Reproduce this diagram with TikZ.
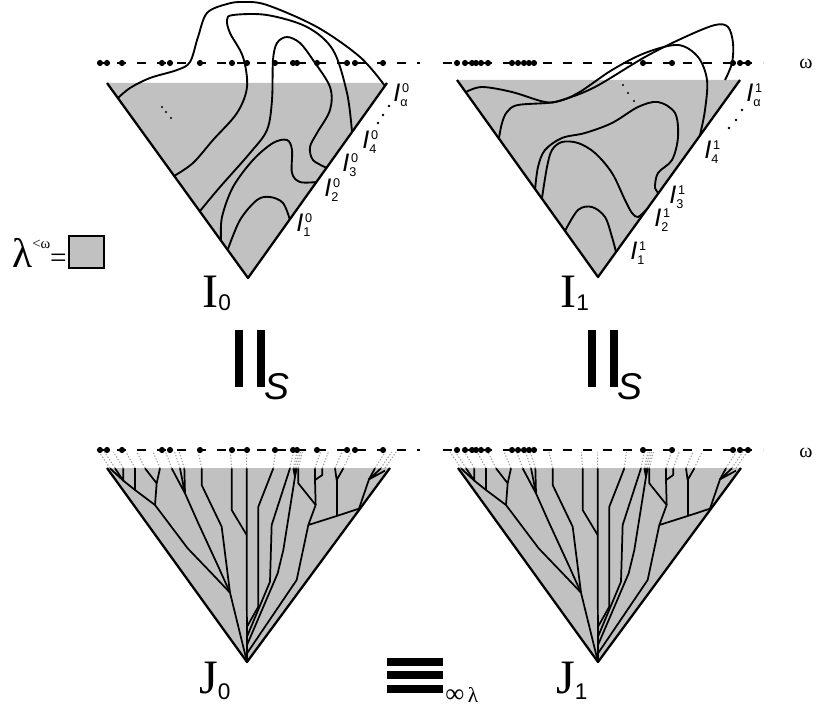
\documentclass[tikz,border=0pt]{standalone}
\usepackage{fontspec}
\setmainfont{Liberation Serif}
\newfontfamily\labfont{Liberation Sans}
\usepackage{tikz}
\usetikzlibrary{positioning}
\definecolor{fillgray}{RGB}{193,193,193}
\definecolor{leafgray}{RGB}{160,160,160}

% edge label I_sub^sup
\newcommand{\edgelab}[2]{{\labfont\itshape\fontsize{19}{19}\selectfont I}%
  \rlap{\hspace{1.4pt}\raisebox{6.5pt}{\labfont\fontsize{9.5}{9.5}\selectfont #2}}%
  \raisebox{-4pt}{\labfont\fontsize{9.5}{9.5}\selectfont #1}}

\def\dotsL{100,107,122,162,170,200,232,247,275,293,297,317,347,355,383}
\def\dotsR{457,465,472,476,481,488,512,518,524,529,534,643,672,733,740,748}

\newcommand{\drawtree}{%
  \fill[fillgray] (36,84) -- (885,84) -- (456,666) -- cycle;
  \foreach \lx in {45,60,85,120,150,195,230,255,268,320,410,455,535,585,595,600,605,610,660,682,720,745,840,858,870}
    \draw[leafline] (\lx,84) -- ({\lx+(\lx-456)*0.08},36);
  \draw[side] (36,84) -- (456,666) -- (885,84);
  % left part
  \draw[branch] (45,85) -- (85,122) -- (120,150) -- (180,195) -- (278,325) -- (350,400) -- (405,458) -- (456,666);
  \draw[branch] (60,85) -- (85,122) -- (85,85);
  \draw[branch] (120,85) -- (120,150);
  \draw[branch] (150,85) -- (185,130);
  \draw[branch] (195,85) -- (185,130) -- (180,195);
  \draw[branch] (320,85) -- (320,135) -- (380,260) -- (405,458);
  \draw[branch] (230,85) -- (270,160) -- (255,85);
  \draw[branch] (268,85) -- (270,160) -- (310,250) -- (370,380) -- (405,458);
  % middle
  \draw[branch] (410,85) -- (410,210) -- (455,285);
  \draw[branch] (455,85) -- (455,285) -- (456,666);
  \draw[branch] (535,85) -- (490,200) -- (490,500) -- (456,560);
  \draw[branch] (585,85) -- (530,255) -- (525,425) -- (456,590);
  \draw[branch] (595,85) -- (600,110) -- (605,85);
  \draw[branch] (600,85) -- (600,110) -- (565,330) -- (548,400) -- (456,615);
  % right part
  \draw[branch] (610,85) -- (610,130) -- (662,195) -- (640,255) -- (605,420) -- (456,640);
  \draw[branch] (660,85) -- (660,120) -- (682,105) -- (682,85);
  \draw[branch] (660,120) -- (662,195);
  \draw[branch] (640,255) -- (725,228) -- (792,206);
  \draw[branch] (720,85) -- (725,120) -- (745,85);
  \draw[branch] (725,120) -- (725,228);
  \draw[branch] (792,206) -- (822,118) -- (840,85);
  \draw[branch] (858,85) -- (822,118) -- (870,92);
}

\begin{document}
\begin{tikzpicture}[x=0.75pt, y=-0.75pt,
    side/.style={line width=1.7pt, line join=round},
    curve/.style={line width=1.4pt, line join=round},
    branch/.style={line width=1.3pt, line join=round},
    leafline/.style={leafgray, line width=0.8pt, dash pattern=on 1pt off 1.3pt},
    omline/.style={line width=1.3pt, dash pattern=on 7pt off 8pt},
    dotmark/.style={radius=2.3pt},
    lab/.style={anchor=base west, inner sep=0pt}
  ]
  \useasboundingbox (0,0) rectangle (817,710);

  % ---- I_0 ----
  \fill[fillgray] (107,83) -- (387,83) -- (248,278) -- cycle;
  \draw[side] (107,83) -- (248,278) -- (387,83);
  \draw[omline] (97,63) -- (420,63);
  \foreach \x in \dotsL \fill (\x,63) circle[dotmark];
  \draw[curve] plot[smooth, tension=0.55] coordinates {(118,98) (130,88) (150,78) (177,70) (190,62) (198,37) (207,13) (227,4) (243,2) (267,5) (317,27) (360,57) (385,86)};
  \draw[curve] plot[smooth, tension=0.55] coordinates {(174,176) (193,163) (213,140) (237,113) (247,87) (243,57) (230,33) (227,20) (233,15) (267,15) (307,27) (333,50) (347,93) (352,132)};
  \draw[curve] plot[smooth, tension=0.55] coordinates {(200,211) (220,187) (250,153) (267,130) (272,100) (273,60) (277,43) (287,37) (300,43) (313,60) (330,87) (330,110) (317,133) (310,147) (313,160) (327,168)};
  \draw[curve] plot[smooth, tension=0.55] coordinates {(221,240) (222,217) (233,187) (253,160) (273,143) (287,140) (292,150) (292,173) (300,182) (317,182)};
  \draw[curve] plot[smooth, tension=0.55] coordinates {(228,249) (240,220) (257,200) (270,197) (283,203) (290,220)};
  \foreach \p in {(162,107),(166,112),(171,118)} \fill \p circle[radius=0.9pt];
  \foreach \p in {(389,106),(383,115),(378,123)} \fill \p circle[radius=1.1pt];
  \node[lab] (i10) at (296,231) {\edgelab{1}{0}};
  \node[lab] (i20) at (324,196) {\edgelab{2}{0}};
  \node[lab] (i30) at (342,171) {\edgelab{3}{0}};
  \node[lab] (i40) at (362,148) {\edgelab{4}{0}};
  \node[lab] (ia0) at (393,101) {\edgelab{α}{0}};
  \node[lab] (name0) at (202,307) {\fontsize{36}{36}\selectfont I\raisebox{-2.5pt}{\labfont\fontsize{17}{17}\selectfont 0}};

  % ---- I_1 ----
  \fill[fillgray] (457,80) -- (740,80) -- (598,277) -- cycle;
  \draw[side] (457,80) -- (598,277) -- (740,80);
  \draw[omline] (443,63) -- (763,63);
  \foreach \x in \dotsR \fill (\x,63) circle[dotmark];
  \draw[curve] plot[smooth, tension=0.55] coordinates {(466,92) (482,87) (512,92) (545,102) (562,100) (595,87) (645,57) (685,37) (715,25) (728,27) (733,43) (732,63) (725,80)};
  \draw[curve] plot[smooth, tension=0.55] coordinates {(499,138) (502,123) (507,112) (518,105) (555,102) (578,93) (612,70) (645,53) (678,45) (698,57) (707,80) (705,110) (700,135)};
  \draw[curve] plot[smooth, tension=0.55] coordinates {(535,190) (538,167) (545,150) (562,138) (585,133) (612,123) (638,107) (658,102) (675,113) (678,137) (672,160) (658,173) (655,188) (659,193)};
  \draw[curve] plot[smooth, tension=0.55] coordinates {(542,198) (547,167) (552,150) (562,142) (578,143) (595,153) (612,173) (625,200) (632,213) (638,217) (646,210)};
  \draw[curve] plot[smooth, tension=0.55] coordinates {(565,231) (578,210) (592,207) (605,217) (612,237) (616,252)};
  \foreach \p in {(623,85),(628,93),(634,101)} \fill \p circle[radius=0.9pt];
  \foreach \p in {(742,110),(736,120),(729,128)} \fill \p circle[radius=1.1pt];
  \node[lab] (i11) at (630,259) {\edgelab{1}{1}};
  \node[lab] (i21) at (654,226) {\edgelab{2}{1}};
  \node[lab] (i31) at (669,203) {\edgelab{3}{1}};
  \node[lab] (i41) at (704,158) {\edgelab{4}{1}};
  \node[lab] (ia1) at (746,101) {\edgelab{α}{1}};
  \node[lab] (name1) at (560,307) {\fontsize{36}{36}\selectfont I\raisebox{-2.5pt}{\labfont\fontsize{17}{17}\selectfont 1}};

  \node (om0) at (806,64) {\fontsize{15}{15}\selectfont ω};
  \node (om1) at (806,453) {\fontsize{15}{15}\selectfont ω};

  % ---- legend ----
  \node[lab] (lam) at (12,267) {\fontsize{31}{31}\selectfont λ\raisebox{14pt}{\fontsize{11}{11}\selectfont <ω}\fontsize{22}{22}\selectfont =};
  \node[draw=black, line width=1.5pt, fill=fillgray, minimum width=26pt, minimum height=24pt, inner sep=0pt] (keybox) at (86.5,252) {};

  % ---- ||_S ----
  \fill (235,330) rectangle (243,387);
  \fill (257,330) rectangle (265,387);
  \node[lab] (s0) at (264,399) {\labfont\itshape\fontsize{28}{28}\selectfont S};
  \fill (588,330) rectangle (596,387);
  \fill (610,330) rectangle (618,387);
  \node[lab] (s1) at (617,399) {\labfont\itshape\fontsize{28}{28}\selectfont S};

  % ---- J_0, J_1 ----
  \begin{scope}[shift={(95,440)}, scale=1/3]
    \drawtree
  \end{scope}
  \begin{scope}[shift={(446,440)}, scale=1/3]
    \drawtree
  \end{scope}
  \draw[omline] (97,450) -- (420,450);
  \foreach \x in \dotsL \fill (\x,450) circle[dotmark];
  \draw[omline] (443,450) -- (763,450);
  \foreach \x in \dotsR \fill (\x,450) circle[dotmark];
  \node[lab] (jname0) at (199,693) {\fontsize{36}{36}\selectfont J\raisebox{-5pt}{\labfont\fontsize{17}{17}\selectfont 0}};
  \node[lab] (jname1) at (556,693) {\fontsize{36}{36}\selectfont J\raisebox{-5pt}{\labfont\fontsize{17}{17}\selectfont 1}};

  % ---- equivalence ----
  \fill (387,658) rectangle (443,666);
  \fill (387,671) rectangle (443,679);
  \fill (387,685) rectangle (443,693);
  \node[lab] (eqsub) at (445,702) {\fontsize{20}{20}\selectfont ∞\fontsize{16}{16}\selectfont\,λ};
\end{tikzpicture}
\end{document}
